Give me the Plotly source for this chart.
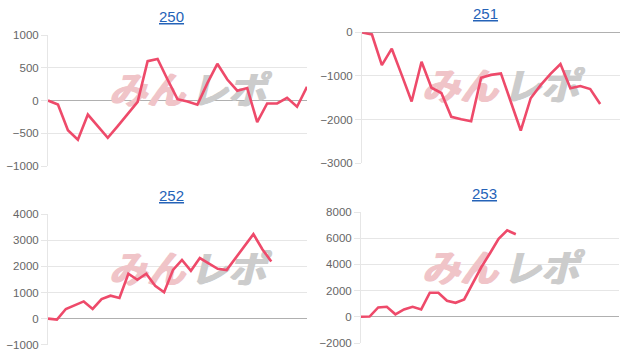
import plotly.graph_objects as go

W, H = 630, 354

titles = ["250", "251", "252", "253"]

n_cats = [27, 27, 30, 31]

s250 = [0, -60, -455, -600, -215, -390, -570, -390, -210, -20, 600, 635, 320, 20,
        -15, -65, 265, 560, 320, 150, 190, -330, -45, -45, 40, -95, 210]
s251 = [0, -50, -750, -375, -975, -1585, -675, -1270, -1390, -1935, -1990, -2035,
        -1040, -975, -940, -1590, -2250, -1510, -1210, -950, -725, -1280, -1230,
        -1300, -1640]
s252 = [0, -40, 370, 500, 660, 370, 750, 880, 790, 1720, 1490, 1720, 1260, 1010,
        1870, 2250, 1835, 2320, 2130, 1910, 1860, 2320, 2770, 3240, 2660, 2190]
s253 = [0, 20, 715, 765, 190, 560, 765, 560, 1840, 1840, 1225, 1070, 1330, 2550,
        3800, 4850, 5950, 6600, 6300]

series = [s250, s251, s252, s253]

y_ranges = [[-1000, 1000], [-3000, 0], [-1000, 4000], [-2000, 8000]]
y_dticks = [500, 1000, 1000, 2000]

# pixel boxes of plot areas: (left, right, top, bottom)
boxes = [(48, 307, 35, 166), (362, 620, 32.3, 163.3), (48, 307, 214.3, 344.7), (361, 619, 212, 343)]
title_pos = [(172, 17), (485, 14), (172, 195), (484, 194)]
wm_pos = [(187, 94), (500, 91), (187, 274), (500, 272)]

LINE = "rgb(238, 74, 106)"
WM_FONT = "Noto Sans CJK JP"
fig = go.Figure()
annotations = []


def px_to_data(i, px, py):
    l, r, t, b = boxes[i]
    x = (px - l) / (r - l) * (n_cats[i] - 1)
    y0, y1 = y_ranges[i]
    y = y1 - (py - t) / (b - t) * (y1 - y0)
    return x, y


for i in range(4):
    ax = "" if i == 0 else str(i + 1)
    vals = series[i]
    wx, wy = wm_pos[i]
    # watermark (drawn below the line)
    for txt, cx, col in (("みん", wx - 40, "rgb(240,196,200)"), ("レポ", wx + 41, "rgb(204,204,204)")):
        dx, dy = px_to_data(i, cx, wy)
        fig.add_trace(go.Scatter(
            x=[dx], y=[dy], mode="text", text=[txt],
            textposition="middle center",
            textfont=dict(family=WM_FONT, size=38, color=col, weight="bold", style="italic",
                          shadow="1px 0px 0px %s, -1px 0px 0px %s" % (col, col)),
            xaxis="x" + ax, yaxis="y" + ax, showlegend=False, hoverinfo="skip"))
    fig.add_trace(go.Scatter(
        x=list(range(len(vals))), y=vals, mode="lines",
        line=dict(color=LINE, width=2.6), xaxis="x" + ax, yaxis="y" + ax,
        showlegend=False, hoverinfo="skip"))
    l, r, t, b = boxes[i]
    fig.layout["xaxis" + ax] = dict(
        domain=[l / W, r / W], range=[0, n_cats[i] - 1], showticklabels=False,
        showgrid=False, zeroline=False, showline=False, anchor="y" + ax,
        fixedrange=True, automargin=False)
    fig.layout["yaxis" + ax] = dict(
        domain=[1 - b / H, 1 - t / H], range=y_ranges[i], dtick=y_dticks[i],
        tick0=y_ranges[i][0], showgrid=True, gridcolor="#e6e6e6", gridwidth=1,
        zeroline=True, zerolinecolor="#b0b0b0", zerolinewidth=1,
        showline=True, linecolor="#e6e6e6", linewidth=1,
        ticks="outside", ticklen=6, tickcolor="#e6e6e6",
        tickfont=dict(family="Liberation Sans, Arial, sans-serif", size=11.5, color="#666666"),
        anchor="x" + ax, fixedrange=True, automargin=False)
    tx, ty = title_pos[i]
    annotations.append(dict(
        text="<u>" + titles[i] + "</u>", x=tx / W, y=1 - ty / H, xref="paper", yref="paper",
        showarrow=False, xanchor="center", yanchor="middle",
        font=dict(family="Liberation Sans, Arial, sans-serif", size=15, color="#2563b8")))

fig.update_layout(
    width=W, height=H, margin=dict(l=0, r=0, t=0, b=0),
    paper_bgcolor="white", plot_bgcolor="rgba(0,0,0,0)",
    annotations=annotations)

fig.write_html("out.html")
